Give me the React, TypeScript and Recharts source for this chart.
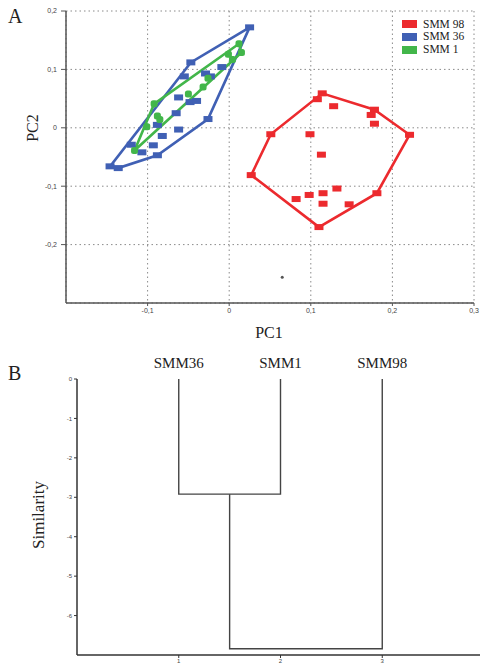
import { CartesianGrid, LabelList, Scatter, ScatterChart, XAxis, YAxis } from 'recharts';

type Pt = { x: number; y: number };

// PCA scores (PC1, PC2)
const smm98: Pt[] = [
  { x: 0.027, y: -0.081 }, { x: 0.051, y: -0.011 }, { x: 0.108, y: 0.049 }, { x: 0.114, y: 0.059 },
  { x: 0.128, y: 0.037 }, { x: 0.178, y: 0.031 }, { x: 0.174, y: 0.022 }, { x: 0.178, y: 0.007 },
  { x: 0.221, y: -0.012 }, { x: 0.099, y: -0.011 }, { x: 0.113, y: -0.046 }, { x: 0.082, y: -0.122 },
  { x: 0.098, y: -0.115 }, { x: 0.115, y: -0.112 }, { x: 0.132, y: -0.104 }, { x: 0.115, y: -0.13 },
  { x: 0.147, y: -0.131 }, { x: 0.11, y: -0.17 }, { x: 0.181, y: -0.112 },
];
const smm36: Pt[] = [
  { x: 0.025, y: 0.172 }, { x: -0.047, y: 0.112 }, { x: -0.055, y: 0.088 }, { x: -0.029, y: 0.093 },
  { x: -0.023, y: 0.088 }, { x: -0.009, y: 0.104 }, { x: -0.062, y: 0.052 }, { x: -0.048, y: 0.044 },
  { x: -0.04, y: 0.046 }, { x: -0.065, y: 0.025 }, { x: -0.026, y: 0.015 }, { x: -0.088, y: 0.005 },
  { x: -0.062, y: -0.003 }, { x: -0.082, y: -0.014 }, { x: -0.12, y: -0.029 }, { x: -0.093, y: -0.03 },
  { x: -0.107, y: -0.042 }, { x: -0.088, y: -0.047 }, { x: -0.146, y: -0.066 }, { x: -0.136, y: -0.069 },
];
const smm1: Pt[] = [
  { x: 0.012, y: 0.144 }, { x: 0.015, y: 0.129 }, { x: -0.001, y: 0.126 }, { x: -0.026, y: 0.085 },
  { x: -0.032, y: 0.07 }, { x: -0.05, y: 0.058 }, { x: -0.092, y: 0.041 }, { x: -0.088, y: 0.02 },
  { x: -0.085, y: 0.014 }, { x: -0.101, y: 0.002 }, { x: -0.116, y: -0.039 }, { x: 0.004, y: 0.117 },
];
const stray: Pt[] = [{ x: 0.065, y: -0.256 }];

// convex hull vertices (indices into the series above)
const hull98 = [0, 1, 3, 5, 8, 18, 17, 0];
const hull36 = [0, 1, 18, 19, 17, 10, 0];
const hull1 = [0, 6, 10, 1, 0];

const pcXTicks = [-0.1, 0, 0.1, 0.2, 0.3];
const pcYTicks = [-0.2, -0.1, 0, 0.1, 0.2];

const RED = '#ec2a2e';
const BLUE = '#4060b4';
const GREEN = '#42b64a';

const legendItems = [
  { name: 'SMM 98', color: RED },
  { name: 'SMM 36', color: BLUE },
  { name: 'SMM 1', color: GREEN },
];

// dendrogram (panel B)
const leafNames = ['SMM36', 'SMM1', 'SMM98'];
const leafPos = [1, 2, 3];
const mergeHeights = [-2.92, -6.84];
const dendroXTicks = [1, 2, 3];
const dendroYTicks = [0, -1, -2, -3, -4, -5, -6];

const leaves = leafNames.map((name, i) => ({ x: leafPos[i], y: 0, name }));
const midX = (leafPos[0] + leafPos[1]) / 2;
const links: Pt[][] = [
  [
    { x: leafPos[0], y: 0 }, { x: leafPos[0], y: mergeHeights[0] },
    { x: leafPos[1], y: mergeHeights[0] }, { x: leafPos[1], y: 0 },
  ],
  [
    { x: midX, y: mergeHeights[0] }, { x: midX, y: mergeHeights[1] },
    { x: leafPos[2], y: mergeHeights[1] }, { x: leafPos[2], y: 0 },
  ],
];

const SERIF = '"Liberation Serif", "Times New Roman", serif';
const SANS = '"Liberation Sans", Arial, sans-serif';
const AXIS = '#555';

const comma = (v: number) => String(v).replace('.', ',');
const none = () => <g />;

const rectShape = (color: string, w: number, h: number, rx = 0) => (p: any) => (
  <rect x={p.cx - w / 2} y={p.cy - h / 2} width={w} height={h} rx={rx} fill={color} />
);

const pick = (pts: Pt[], idx: number[]) => idx.map((i) => pts[i]);

const abs = (left: number, top: number, extra: React.CSSProperties = {}): React.CSSProperties => ({
  position: 'absolute', left, top, lineHeight: 1, whiteSpace: 'nowrap', fontFamily: SERIF, color: '#222', ...extra,
});

export default function App() {
  return (
    <div style={{ position: 'absolute', left: 0, top: 0, width: 480, height: 666, overflow: 'hidden', background: '#fff' }}>
      <div style={{ position: 'absolute', left: 0, top: 0 }}>
        <ScatterChart width={480} height={320} margin={{ top: 11, right: 6, bottom: 0, left: 0 }}>
          <CartesianGrid strokeDasharray="1.5 3" stroke="#8a8a8a" />
          <XAxis
            type="number" dataKey="x" domain={[-0.2, 0.3]} ticks={pcXTicks} tickFormatter={comma}
            height={17} tickSize={3} tickMargin={2} axisLine={{ stroke: AXIS, strokeWidth: 1.5 }}
            tickLine={{ stroke: AXIS }} tick={{ fontSize: 7, fill: '#444', fontFamily: SANS }}
          />
          <YAxis
            type="number" dataKey="y" domain={[-0.3, 0.2]} ticks={pcYTicks} tickFormatter={comma}
            width={66} tickSize={5} tickMargin={4} axisLine={{ stroke: AXIS, strokeWidth: 1.5 }}
            tickLine={{ stroke: AXIS }} tick={{ fontSize: 7, fill: '#444', fontFamily: SANS }}
          />
          <Scatter data={pick(smm36, hull36)} line={{ stroke: BLUE, strokeWidth: 2.6 }} shape={none} isAnimationActive={false} />
          <Scatter data={pick(smm1, hull1)} line={{ stroke: GREEN, strokeWidth: 2.6 }} shape={none} isAnimationActive={false} />
          <Scatter data={pick(smm98, hull98)} line={{ stroke: RED, strokeWidth: 2.6 }} shape={none} isAnimationActive={false} />
          <Scatter data={smm36} shape={rectShape(BLUE, 9, 6)} isAnimationActive={false} />
          <Scatter data={smm1} shape={rectShape(GREEN, 7, 7, 2.5)} isAnimationActive={false} />
          <Scatter data={smm98} shape={rectShape(RED, 9, 6)} isAnimationActive={false} />
          <Scatter data={stray} shape={rectShape('#555', 3, 3, 1.5)} isAnimationActive={false} />
        </ScatterChart>
      </div>

      <div style={{ position: 'absolute', left: 402, top: 18 }}>
        {legendItems.map((it) => (
          <div key={it.name} style={{ display: 'flex', alignItems: 'center', height: 12.8 }}>
            <span style={{ width: 15, height: 8, background: it.color, marginRight: 6 }} />
            <span style={{ fontFamily: SERIF, fontSize: 11.5, color: '#222', lineHeight: 1 }}>{it.name}</span>
          </div>
        ))}
      </div>

      <div style={abs(8, 6, { fontSize: 20 })}>A</div>
      <div style={abs(33, 128, { fontSize: 16, transform: 'translate(-50%, -50%) rotate(-90deg)' })}>PC2</div>
      <div style={abs(269, 333, { fontSize: 16, transform: 'translate(-50%, -50%)' })}>PC1</div>

      <div style={{ position: 'absolute', left: 0, top: 340 }}>
        <ScatterChart width={484} height={326} margin={{ top: 39, right: 0, bottom: 0, left: 0 }}>
          <XAxis
            type="number" dataKey="x" domain={[0, 4]} ticks={dendroXTicks} height={11}
            tickSize={3} tickMargin={1} axisLine={{ stroke: '#333', strokeWidth: 1.5 }}
            tickLine={{ stroke: '#333' }} tick={{ fontSize: 6, fill: '#444', fontFamily: SANS }}
          />
          <YAxis
            type="number" dataKey="y" domain={[-7, 0]} ticks={dendroYTicks} width={77}
            tickSize={3} tickMargin={2} axisLine={{ stroke: '#333', strokeWidth: 1.5 }}
            tickLine={{ stroke: '#333' }} tick={{ fontSize: 6, fill: '#444', fontFamily: SANS }}
          />
          {links.map((seg, i) => (
            <Scatter key={i} data={seg} line={{ stroke: '#444', strokeWidth: 1.4 }} shape={none} isAnimationActive={false} />
          ))}
          <Scatter data={leaves} shape={none} isAnimationActive={false}>
            <LabelList dataKey="name" position="top" offset={6} fontSize={15} fontFamily={SERIF} fill="#222" />
          </Scatter>
        </ScatterChart>
      </div>

      <div style={abs(8, 363, { fontSize: 20 })}>B</div>
      <div style={abs(38, 515, { fontSize: 17, transform: 'translate(-50%, -50%) rotate(-90deg)' })}>Similarity</div>
    </div>
  );
}
